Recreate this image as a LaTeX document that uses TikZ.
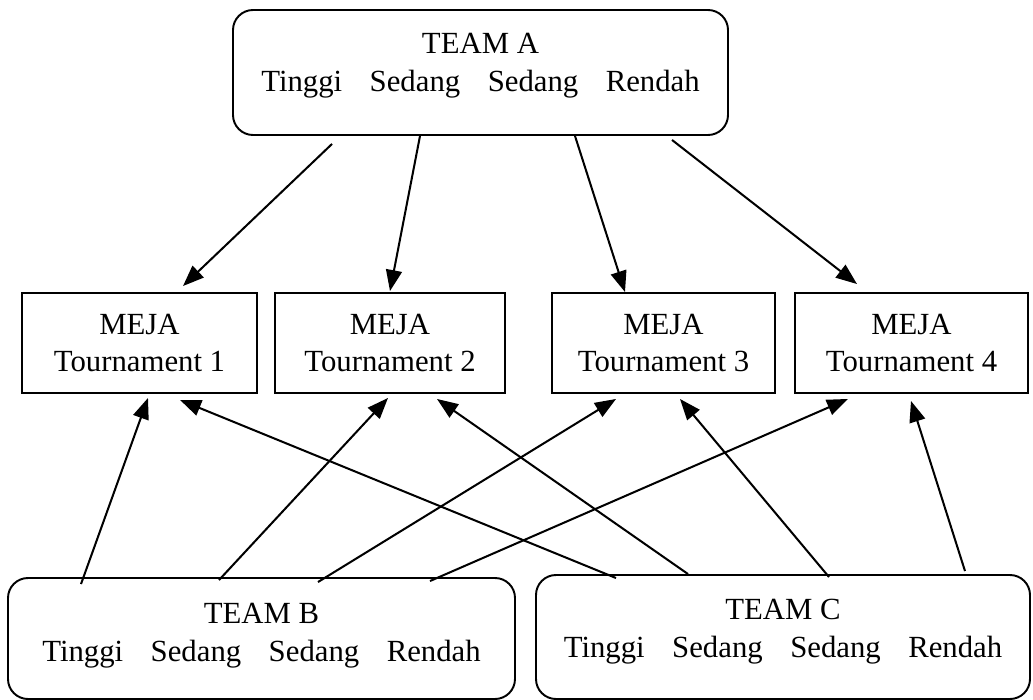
\documentclass[tikz,border=0pt]{standalone}
\usepackage{fontspec}
\setmainfont{Liberation Serif}
\usetikzlibrary{positioning,arrows.meta}

\begin{document}
\begin{tikzpicture}[
      font=\fontsize{17.5}{21.5}\selectfont,
      team/.style={
        draw, rounded corners=0.4cm, align=center,
        inner sep=0pt, line width=1.1pt
      },
      meja/.style={
        draw, align=center, inner sep=0pt,
        minimum height=2cm, line width=1.1pt
      },
      arr/.style={-{Triangle[length=0.42cm, width=0.32cm]}, line width=1.15pt}
    ]
      \useasboundingbox (0,0) rectangle (20.66,-14);
      \node[team, minimum width=9.9cm, minimum height=2.5cm, text depth=0.4cm] (teamA) at (9.61,-1.45)
        {TEAM A\\Tinggi\hspace{0.55cm}Sedang\hspace{0.55cm}Sedang\hspace{0.55cm}Rendah};
      \node[meja, minimum width=4.7cm] (meja1) at (2.79,-6.86) {MEJA\\Tournament 1};
      \node[meja, minimum width=4.6cm] (meja2) at (7.8,-6.86) {MEJA\\Tournament 2};
      \node[meja, minimum width=4.46cm] (meja3) at (13.27,-6.86) {MEJA\\Tournament 3};
      \node[meja, minimum width=4.66cm] (meja4) at (18.23,-6.86) {MEJA\\Tournament 4};
      \node[team, minimum width=10.14cm, minimum height=2.42cm, text depth=0.26cm] (teamB) at (5.23,-12.77)
        {TEAM B\\Tinggi\hspace{0.55cm}Sedang\hspace{0.55cm}Sedang\hspace{0.55cm}Rendah};
      \node[team, minimum width=9.88cm, minimum height=2.48cm, text depth=0.34cm] (teamC) at (15.66,-12.74)
        {TEAM C\\Tinggi\hspace{0.55cm}Sedang\hspace{0.55cm}Sedang\hspace{0.55cm}Rendah};
      % team A to the tables
      \draw[arr] ([xshift=-2.97cm, yshift=-0.16cm]teamA.south) -- ([xshift=0.87cm, yshift=0.12cm]meja1.north);
      \draw[arr] ([xshift=-1.21cm]teamA.south) -- ([yshift=0.02cm]meja2.north);
      \draw[arr] ([xshift=1.89cm]teamA.south) -- ([xshift=-0.77cm]meja3.north);
      \draw[arr] ([xshift=3.83cm, yshift=-0.08cm]teamA.south) -- ([xshift=-1.09cm, yshift=0.16cm]meja4.north);
      % team B to the tables
      \draw[arr] ([xshift=-3.61cm, yshift=-0.14cm]teamB.north) -- ([xshift=0.17cm, yshift=-0.08cm]meja1.south);
      \draw[arr] ([xshift=-0.85cm, yshift=-0.06cm]teamB.north) -- ([xshift=-0.04cm, yshift=-0.08cm]meja2.south);
      \draw[arr] ([xshift=1.13cm, yshift=-0.1cm]teamB.north) -- ([xshift=-0.95cm, yshift=-0.1cm]meja3.south);
      \draw[arr] ([xshift=3.37cm, yshift=-0.08cm]teamB.north) -- ([xshift=-1.27cm, yshift=-0.1cm]meja4.south);
      % team C to the tables
      \draw[arr] ([xshift=-3.34cm, yshift=-0.08cm]teamC.north) -- ([xshift=0.81cm, yshift=-0.12cm]meja1.south);
      \draw[arr] ([xshift=-1.9cm]teamC.north) -- ([xshift=0.94cm, yshift=-0.1cm]meja2.south);
      \draw[arr] ([xshift=0.92cm, yshift=-0.06cm]teamC.north) -- ([xshift=0.33cm, yshift=-0.1cm]meja3.south);
      \draw[arr] ([xshift=3.64cm, yshift=0.06cm]teamC.north) -- ([xshift=-0.01cm, yshift=-0.14cm]meja4.south);
    \end{tikzpicture}
\end{document}
